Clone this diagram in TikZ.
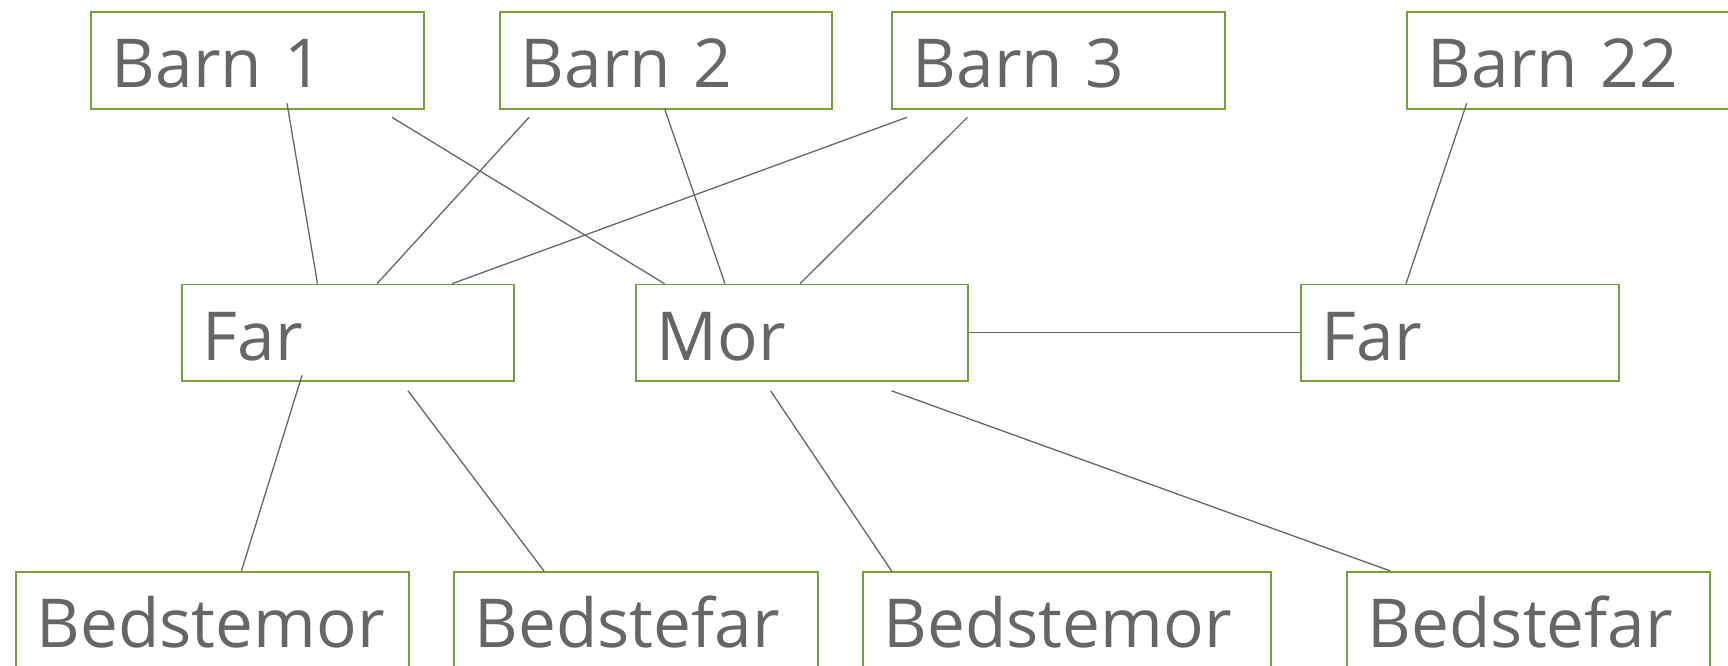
\documentclass[tikz,border=0pt]{standalone}
\usepackage{fontspec}
\setmainfont{Open Sans}
\definecolor{boxgreen}{RGB}{118,160,58}
\definecolor{txtgray}{RGB}{102,102,102}
\tikzset{
  box/.style={draw=boxgreen, line width=1.6pt, anchor=north west,
    inner xsep=21pt, inner ysep=0pt, minimum height=97pt,
    text height=55pt, text depth=0pt, align=left, text=txtgray,
    font=\fontsize{67.5}{80}\selectfont},
  link/.style={draw=txtgray, line width=1.3pt}
}
\begin{document}
\begin{tikzpicture}[x=1pt, y=-1pt]
  \useasboundingbox (0,0) rectangle (1728,666);

  % children
  \node[box, text width=291pt] (b1)  at (90,11)   {Barn 1};
  \node[box, text width=290pt] (b2)  at (499,11)  {Barn 2};
  \node[box, text width=291pt] (b3)  at (891,11)  {Barn 3};
  \node[box, text width=291pt] (b22) at (1406,11) {Barn 22};

  % parents
  \node[box, text width=290pt, minimum height=96.5pt] (far)  at (181,283.7)  {Far};
  \node[box, text width=290pt, minimum height=96.5pt] (mor)  at (635,283.7)  {Mor};
  \node[box, text width=276pt, minimum height=96.5pt] (far2) at (1300,283.7) {Far};

  % grandparents
  \node[box, text width=351pt] (bm1) at (15,571)   {Bedstemor};
  \node[box, text width=322pt] (bf1) at (453,571)  {Bedstefar};
  \node[box, text width=366pt] (bm2) at (862,571)  {Bedstemor};
  \node[box, text width=321pt] (bf2) at (1346,571) {Bedstefar};

  % children to parents
  \draw[link] ([shift={(197,-6.3)}]b1.south west)   -- ([shift={(136.5,0)}]far.north west);
  \draw[link] ([shift={(302,7.7)}]b1.south west)    -- ([shift={(29.5,0)}]mor.north west);
  \draw[link] ([shift={(30,7.7)}]b2.south west)     -- ([shift={(196,0)}]far.north west);
  \draw[link] ([shift={(165.5,-1)}]b2.south west)   -- ([shift={(90,0)}]mor.north west);
  \draw[link] ([shift={(16,7.7)}]b3.south west)     -- ([shift={(271,0)}]far.north west);
  \draw[link] ([shift={(76.5,7.7)}]b3.south west)   -- ([shift={(165,0)}]mor.north west);
  \draw[link] ([shift={(60.7,-6.3)}]b22.south west) -- ([shift={(106,0)}]far2.north west);

  % partners
  \draw[link] (mor.east) -- (far2.west);

  % parents to grandparents
  \draw[link] ([shift={(121,-6.4)}]far.south west)  -- ([shift={(226.4,0)}]bm1.north west);
  \draw[link] ([shift={(227,9)}]far.south west)     -- ([shift={(91,0)}]bf1.north west);
  \draw[link] ([shift={(135.6,9)}]mor.south west)   -- ([shift={(29.6,0)}]bm2.north west);
  \draw[link] ([shift={(256.5,9)}]mor.south west)   -- ([shift={(44.5,0)}]bf2.north west);
\end{tikzpicture}
\end{document}
